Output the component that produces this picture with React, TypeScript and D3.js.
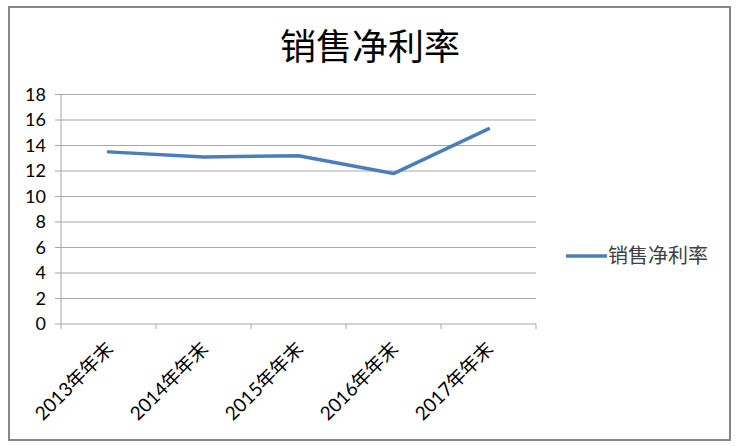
import React from "react";
import * as d3 from "d3";

const categories = ["2013年年末", "2014年年末", "2015年年末", "2016年年末", "2017年年末"];
const values = [13.5, 13.1, 13.2, 11.8, 15.3];
const yTicks = [0, 2, 4, 6, 8, 10, 12, 14, 16, 18];
const title = "销售净利率";
const seriesName = "销售净利率";

const W = 737;
const H = 446;
const plot = { left: 61, right: 536, top: 94.5, bottom: 324 };
const lineColor = "#4A7EBB";
const gridColor = "#A6A6A6";
const fontLatin = "Lato, 'Noto Sans CJK SC', sans-serif";
const fontCJK = "'Noto Sans CJK SC', sans-serif";

export default function App() {
  const x = d3.scaleBand<string>().domain(categories).range([plot.left, plot.right]);
  const y = d3.scaleLinear().domain([0, 18]).range([plot.bottom, plot.top]);
  const line = d3
    .line<number>()
    .x((_, i) => (x(categories[i]) as number) + x.bandwidth() / 2)
    .y((d) => y(d));
  const tickXs = [...categories.map((c) => x(c) as number), plot.right];

  return (
    <svg
      width={W}
      height={H}
      style={{ position: "absolute", left: 0, top: 0, background: "#fff" }}
    >
      <rect x={9} y={7} width={721} height={433} fill="#fff" stroke="#878787" strokeWidth={2} />
      <text
        x={370}
        y={60}
        textAnchor="middle"
        fontFamily={fontCJK}
        fontSize={36}
        fill="#000"
      >
        {title}
      </text>
      {yTicks.map((t) => (
        <g key={t}>
          <line x1={55} x2={plot.right} y1={y(t)} y2={y(t)} stroke={gridColor} strokeWidth={1} />
          <text
            x={46}
            y={y(t)}
            dy="0.36em"
            textAnchor="end"
            fontFamily={fontLatin}
            fontSize={18}
            fill="#000"
          >
            {t}
          </text>
        </g>
      ))}
      <line x1={plot.left} x2={plot.left} y1={plot.top} y2={plot.bottom} stroke={gridColor} strokeWidth={1} />
      {tickXs.map((tx, i) => (
        <line key={i} x1={tx} x2={tx} y1={plot.bottom} y2={plot.bottom + 5} stroke={gridColor} strokeWidth={1} />
      ))}
      {categories.map((c) => {
        const cx = (x(c) as number) + x.bandwidth() / 2;
        return (
          <text
            key={c}
            transform={`translate(${cx + 6},${plot.bottom + 26}) rotate(-45)`}
            textAnchor="end"
            fontFamily={fontLatin}
            fontSize={19}
            fill="#000"
          >
            {c}
          </text>
        );
      })}
      <path
        d={line(values) ?? ""}
        fill="none"
        stroke={lineColor}
        strokeWidth={3.5}
        strokeLinejoin="round"
        strokeLinecap="round"
      />
      <line x1={566} x2={607} y1={256} y2={256} stroke={lineColor} strokeWidth={3.5} />
      <text x={608} y={256} dy="0.36em" fontFamily={fontCJK} fontSize={20} fill="#404040">
        {seriesName}
      </text>
    </svg>
  );
}
